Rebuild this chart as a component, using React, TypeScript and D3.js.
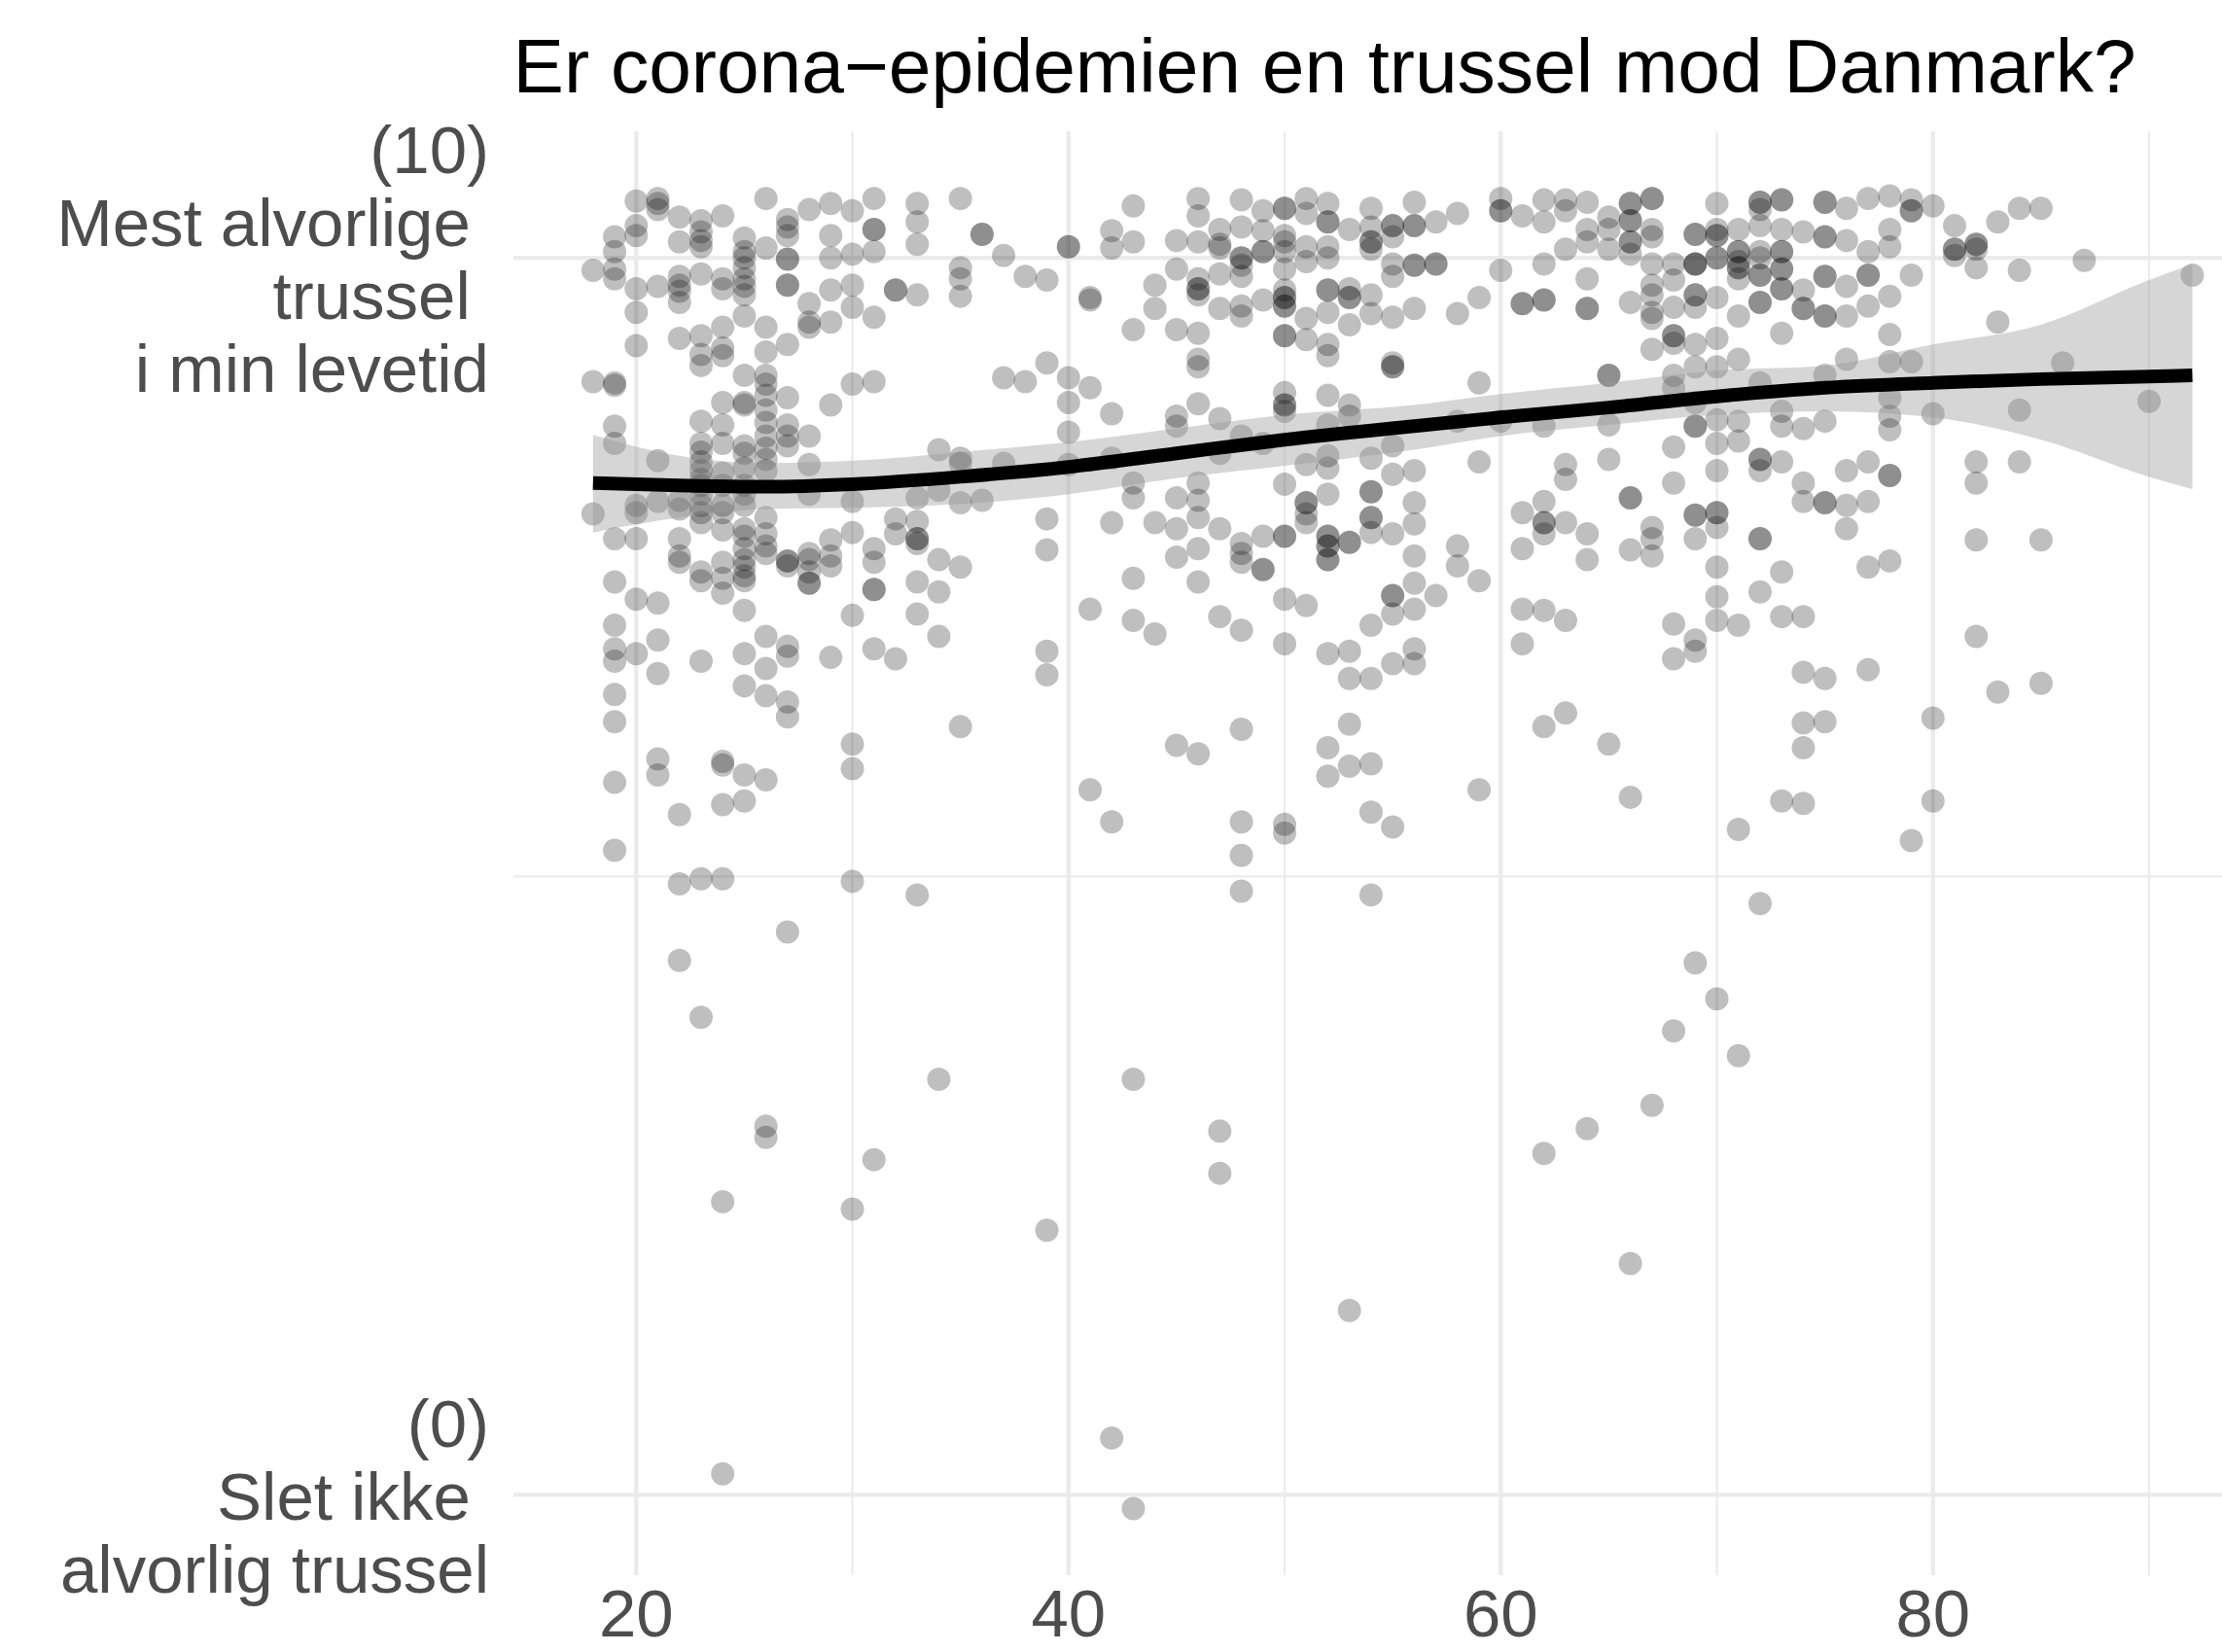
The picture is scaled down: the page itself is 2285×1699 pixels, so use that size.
import React from "react";
import * as d3 from "d3";

const title = "Er corona\u2212epidemien en trussel mod Danmark?";
const xMajorTicks = [20, 40, 60, 80];
const xMinorTicks = [30, 50, 70, 90];
const yMajorTicks = [0, 10];
const yMinorTicks = [5];
const yTickLabels: string[][] = [
  ["(0)", "Slet ikke ", "alvorlig trussel"],
  ["(10)", "Mest alvorlige ", "trussel ", "i min levetid"],
];

// respondent age (x) and jittered threat rating 0-10 (y), grouped by age
const ages = [
  18, 19, 20, 21, 22, 23, 24, 25, 26, 27, 28, 29, 30, 31, 32, 33, 34, 35, 36, 37, 38, 39, 40,
  41, 42, 43, 44, 45, 46, 47, 48, 49, 50, 51, 52, 53, 54, 55, 56, 57, 58, 59, 60, 61, 62, 63,
  64, 65, 66, 67, 68, 69, 70, 71, 72, 73, 74, 75, 76, 77, 78, 79, 80, 81, 82, 83, 84, 85, 86,
  87, 90, 92,
];
const threat: number[][] = [
  [9.9, 9.0, 7.93],
  [10.17, 10.05, 9.91, 9.83, 8.99, 8.97, 8.64, 8.5, 7.73, 7.38, 7.03, 6.84, 6.74, 6.47, 6.25, 5.76, 5.21],
  [10.46, 10.26, 10.18, 9.75, 9.56, 9.29, 8.0, 7.94, 7.73, 7.24, 6.8],
  [10.48, 10.44, 10.39, 9.77, 8.36, 8.03, 7.21, 6.91, 6.64, 5.95, 5.82],
  [10.33, 10.13, 9.85, 9.78, 9.73, 9.64, 9.35, 8.04, 7.97, 7.73, 7.59, 7.54, 5.5, 4.94, 4.32],
  [10.3, 10.21, 10.14, 10.09, 9.87, 9.37, 9.22, 9.13, 8.68, 8.5, 8.43, 8.35, 8.28, 8.21, 8.16, 8.09, 8.0, 7.94, 7.86, 7.46, 7.39, 6.74, 4.98, 3.86],
  [10.34, 9.83, 9.75, 9.44, 9.27, 9.21, 8.83, 8.65, 8.5, 8.26, 8.16, 8.0, 7.94, 7.8, 7.54, 7.41, 7.29, 5.93, 5.9, 5.58, 4.98, 2.37, 0.17],
  [10.16, 10.05, 10.0, 9.92, 9.83, 9.77, 9.7, 9.53, 9.05, 8.83, 8.81, 8.48, 8.42, 8.3, 8.16, 8.09, 8.0, 7.81, 7.75, 7.65, 7.56, 7.5, 7.43, 7.39, 7.15, 6.8, 6.54, 5.82, 5.61],
  [10.48, 10.08, 9.44, 9.24, 9.05, 8.98, 8.89, 8.77, 8.67, 8.56, 8.46, 8.37, 8.28, 7.9, 7.77, 7.67, 7.61, 6.94, 6.68, 6.46, 5.78, 2.98, 2.89],
  [10.31, 10.25, 10.18, 9.99, 9.99, 9.78, 9.78, 9.3, 8.87, 8.65, 8.56, 8.48, 7.55, 7.55, 7.51, 6.86, 6.78, 6.41, 6.29, 4.55],
  [10.39, 9.63, 9.48, 9.44, 8.56, 8.33, 8.09, 7.61, 7.56, 7.46, 7.37, 7.37],
  [10.44, 10.18, 10.0, 9.74, 9.48, 8.81, 7.72, 7.59, 7.51, 6.77],
  [10.38, 10.03, 9.78, 9.6, 8.98, 8.03, 7.78, 7.11, 6.07, 5.87, 4.96, 2.31],
  [10.48, 10.23, 10.23, 10.05, 9.52, 9.0, 7.65, 7.54, 7.32, 7.32, 6.84, 2.71],
  [9.74, 9.74, 7.89, 7.77, 6.76],
  [10.44, 10.29, 10.11, 9.7, 8.06, 7.87, 7.73, 7.73, 7.69, 7.38, 7.12, 4.85],
  [8.45, 8.12, 7.56, 7.3, 6.94, 3.36],
  [10.48, 9.92, 9.83, 9.69, 8.38, 8.34, 8.02, 7.5, 6.21],
  [10.19, 10.19, 8.04],
  [10.02, 9.03, 8.34],
  [9.85, 9.0],
  [9.82, 9.15, 7.89, 7.64, 6.82, 6.63, 2.14],
  [10.09, 10.09, 9.03, 8.83, 8.59, 8.33],
  [9.68, 9.66, 8.95, 7.16, 5.7],
  [10.22, 10.08, 8.74, 8.38, 7.86, 5.44, 0.46],
  [10.42, 10.13, 9.42, 8.18, 8.06, 7.41, 7.07, 3.36, -0.11],
  [9.78, 9.59, 7.86, 6.96],
  [10.14, 9.91, 9.42, 8.72, 8.64, 8.06, 7.81, 7.58, 6.06],
  [10.48, 10.34, 10.13, 9.83, 9.75, 9.75, 9.7, 9.39, 9.18, 9.12, 8.82, 8.18, 8.04, 7.9, 7.65, 7.38, 5.99],
  [10.23, 10.11, 10.08, 9.87, 9.59, 8.7, 8.42, 7.81, 7.1, 2.94, 2.6],
  [10.47, 10.25, 10.0, 10.0, 9.94, 9.85, 9.61, 9.53, 8.56, 7.69, 7.61, 7.54, 6.99, 6.19, 5.44, 5.17, 4.88],
  [10.38, 10.22, 10.05, 10.05, 9.66, 8.5, 7.75, 7.48, 7.48],
  [10.4, 10.4, 10.18, 10.13, 10.05, 9.91, 9.74, 9.68, 9.68, 9.61, 9.61, 9.37, 9.37, 8.91, 8.81, 8.81, 8.76, 8.17, 7.75, 7.75, 7.24, 6.88, 5.42, 5.35],
  [10.48, 10.36, 10.09, 9.97, 9.51, 9.34, 8.33, 8.02, 8.02, 7.93, 7.86, 7.19],
  [10.44, 10.29, 10.29, 10.09, 10.0, 9.74, 9.74, 9.56, 9.3, 9.21, 8.89, 8.65, 8.4, 8.3, 8.09, 7.75, 7.75, 7.67, 7.67, 7.56, 7.56, 6.8, 6.04, 5.81],
  [10.23, 9.75, 9.68, 9.68, 9.46, 8.81, 8.72, 7.7, 7.7, 6.82, 6.6, 6.23, 5.89, 1.49],
  [10.4, 10.25, 10.13, 10.13, 10.07, 9.7, 9.55, 8.38, 8.11, 8.11, 7.9, 7.9, 7.78, 7.03, 6.6, 5.91, 5.52, 4.85],
  [10.26, 10.26, 10.17, 9.95, 9.85, 9.52, 9.15, 9.12, 9.12, 8.48, 8.25, 7.77, 7.27, 7.27, 7.12, 6.72, 5.4],
  [10.45, 10.26, 10.26, 9.94, 9.94, 9.59, 8.28, 8.02, 7.85, 7.59, 7.37, 7.16, 6.84, 6.72],
  [10.29, 9.95, 9.95, 7.27],
  [10.36, 9.55, 8.68, 7.67, 7.51],
  [9.68, 8.99, 8.35, 7.39, 5.7],
  [10.48, 10.38, 10.38, 9.9, 8.68],
  [10.34, 9.63, 9.63, 7.94, 7.65, 7.16, 6.88],
  [10.47, 10.29, 9.95, 9.66, 9.66, 8.64, 8.03, 7.86, 7.86, 7.77, 7.15, 6.21, 2.76],
  [10.47, 10.38, 10.07, 8.33, 8.21, 7.86, 7.07, 6.32],
  [10.45, 10.23, 10.13, 9.83, 9.59, 9.59, 7.77, 7.56, 2.96],
  [10.33, 10.23, 10.07, 9.05, 9.05, 8.65, 8.37, 6.07],
  [10.44, 10.44, 10.3, 10.3, 10.13, 10.13, 10.03, 9.64, 8.06, 8.06, 7.64, 5.64, 1.87],
  [10.48, 10.48, 10.23, 10.17, 9.95, 9.78, 9.7, 9.56, 9.51, 9.26, 7.82, 7.73, 7.59, 3.15],
  [9.95, 9.82, 9.6, 9.37, 9.37, 9.31, 9.05, 8.95, 8.47, 8.18, 7.04, 6.76, 3.75],
  [10.19, 10.19, 9.95, 9.95, 9.95, 9.7, 9.7, 9.6, 9.3, 9.12, 8.83, 8.64, 8.64, 7.92, 7.92, 7.73, 6.91, 6.82, 4.3],
  [10.44, 10.23, 10.18, 10.18, 10.0, 10.0, 9.68, 9.35, 9.12, 8.69, 8.5, 8.28, 7.94, 7.94, 7.82, 7.5, 7.26, 7.07, 4.01],
  [10.23, 10.05, 10.05, 9.97, 9.92, 9.92, 9.83, 9.53, 9.18, 8.68, 8.52, 7.03, 5.38, 3.55],
  [10.45, 10.45, 10.39, 10.26, 10.05, 10.0, 9.86, 9.86, 9.64, 9.64, 8.99, 8.37, 8.37, 8.28, 7.73, 7.73, 7.3, 4.78],
  [10.47, 10.47, 10.23, 10.05, 10.05, 9.91, 9.91, 9.75, 9.75, 9.39, 8.76, 8.64, 8.35, 7.46, 7.1, 5.61],
  [10.21, 9.74, 9.59, 9.59, 8.62, 8.18, 8.03, 7.1, 6.65, 6.24, 6.04, 5.59],
  [10.45, 10.45, 10.17, 10.17, 9.85, 9.85, 9.53, 9.53, 9.05, 8.68, 8.02, 8.02, 6.6, 6.25],
  [10.4, 10.14, 9.77, 9.53, 9.18, 8.28, 8.0, 7.81],
  [10.48, 10.05, 9.86, 9.86, 9.61, 8.35, 8.03, 7.5, 6.67],
  [10.5, 10.23, 10.09, 9.69, 9.38, 9.16, 8.87, 8.72, 8.61, 8.24, 8.24, 7.55],
  [10.47, 10.38, 10.38, 9.86, 9.16, 5.29],
  [10.42, 8.74, 6.28, 5.61],
  [10.26, 10.07, 10.07, 10.02],
  [10.11, 10.11, 10.07, 9.92, 8.35, 8.18, 7.72, 6.94],
  [10.29, 9.48, 6.49],
  [10.4, 9.9, 8.77, 8.35],
  [10.4, 7.72, 6.56],
  [9.15],
  [9.98],
  [8.84],
  [9.86],
];

// loess fit with 95% confidence band
const smoothAges = [18, 22, 26, 30, 35, 40, 45, 50, 56, 60, 65, 70, 75, 80, 85, 90, 92];
const smoothFit = [8.18, 8.16, 8.15, 8.17, 8.23, 8.31, 8.42, 8.53, 8.64, 8.71, 8.79, 8.88, 8.95, 8.99, 9.02, 9.04, 9.05];
const smoothLow = [7.78, 7.9, 7.97, 7.98, 8.01, 8.09, 8.22, 8.32, 8.45, 8.56, 8.65, 8.73, 8.76, 8.71, 8.53, 8.23, 8.13];
const smoothHigh = [8.57, 8.4, 8.34, 8.36, 8.43, 8.51, 8.62, 8.73, 8.81, 8.9, 8.99, 9.09, 9.13, 9.3, 9.46, 9.82, 9.95];

const W = 2285;
const H = 1699;
const panel = { left: 527.6, right: 2285, top: 135, bottom: 1620 };
const FONT = "'Liberation Sans', Arial, Helvetica, sans-serif";
const AXIS_FS = 69;
const LINE_H = 75;

export default function App() {
  const x = d3.scaleLinear().domain([14.3, 95.7]).range([527.6, 2336.7]);
  const y = d3.scaleLinear().domain([0, 10]).range([1537.4, 265.2]);

  const points: { a: number; v: number }[] = [];
  ages.forEach((a, i) => threat[i].forEach((v) => points.push({ a, v })));

  const band = smoothAges.map((a, i) => ({ a, lo: smoothLow[i], hi: smoothHigh[i], f: smoothFit[i] }));
  const area = d3
    .area<{ a: number; lo: number; hi: number; f: number }>()
    .x((d) => x(d.a))
    .y0((d) => y(d.lo))
    .y1((d) => y(d.hi))
    .curve(d3.curveMonotoneX);
  const line = d3
    .line<{ a: number; lo: number; hi: number; f: number }>()
    .x((d) => x(d.a))
    .y((d) => y(d.f))
    .curve(d3.curveMonotoneX);

  return (
    <svg
      width={W}
      height={H}
      viewBox={`0 0 ${W} ${H}`}
      style={{ position: "absolute", left: 0, top: 0, background: "white" }}
    >
      <defs>
        <clipPath id="panelClip">
          <rect x={panel.left} y={panel.top} width={panel.right - panel.left} height={panel.bottom - panel.top} />
        </clipPath>
      </defs>
      <rect x={0} y={0} width={W} height={H} fill="white" />
      <g clipPath="url(#panelClip)">
        {yMinorTicks.map((t) => (
          <line key={"ym" + t} x1={panel.left} x2={panel.right} y1={y(t)} y2={y(t)} stroke="#EBEBEB" strokeWidth={2.2} />
        ))}
        {xMinorTicks.map((t) => (
          <line key={"xm" + t} x1={x(t)} x2={x(t)} y1={panel.top} y2={panel.bottom} stroke="#EBEBEB" strokeWidth={2.2} />
        ))}
        {yMajorTicks.map((t) => (
          <line key={"yM" + t} x1={panel.left} x2={panel.right} y1={y(t)} y2={y(t)} stroke="#EBEBEB" strokeWidth={4.4} />
        ))}
        {xMajorTicks.map((t) => (
          <line key={"xM" + t} x1={x(t)} x2={x(t)} y1={panel.top} y2={panel.bottom} stroke="#EBEBEB" strokeWidth={4.4} />
        ))}
        {points.map((p, i) => (
          <circle key={i} cx={x(p.a)} cy={y(p.v)} r={12} fill="#000" fillOpacity={0.25} />
        ))}
        <path d={area(band) || ""} fill="#999999" fillOpacity={0.4} />
        <path d={line(band) || ""} fill="none" stroke="#000" strokeWidth={14} />
      </g>
      <text x={527.6} y={95} fontFamily={FONT} fontSize={78.5} fill="#000">
        {title}
      </text>
      {yMajorTicks.map((t, ti) => {
        const lines = yTickLabels[ti];
        const n = lines.length;
        return (
          <text
            key={"yl" + t}
            fontFamily={FONT}
            fontSize={AXIS_FS}
            fill="#4D4D4D"
            textAnchor="end"
            style={{ whiteSpace: "pre" }}
          >
            {lines.map((s, i) => (
              <tspan key={i} x={503} y={y(t) + 0.37 * AXIS_FS + (i - (n - 1) / 2) * LINE_H}>
                {s}
              </tspan>
            ))}
          </text>
        );
      })}
      {xMajorTicks.map((t) => (
        <text key={"xl" + t} x={x(t)} y={1683} fontFamily={FONT} fontSize={AXIS_FS} fill="#4D4D4D" textAnchor="middle">
          {t}
        </text>
      ))}
    </svg>
  );
}
